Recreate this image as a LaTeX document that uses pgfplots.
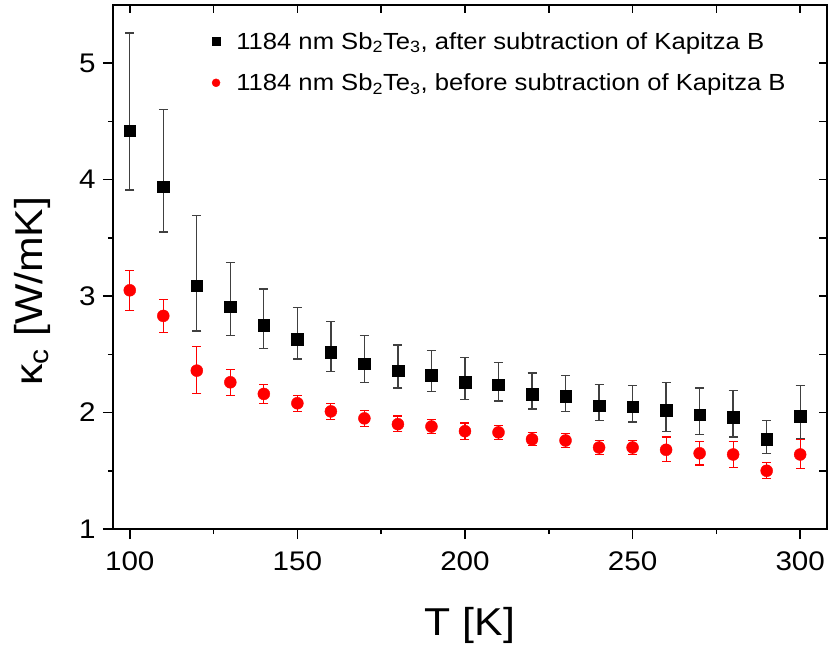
\documentclass[border=0pt]{standalone}
\usepackage{pgfplots}
\usepackage{pgfplotstable}
\pgfplotsset{compat=1.18}
\usepackage{fontspec}
\setmainfont{Liberation Sans}[FakeStretch=1.1]

% thermal conductivity of the 1184 nm Sb2Te3 film, asymmetric error bars
\pgfplotstableread{
T    k     ep    em
100  4.42  0.84  0.51
110  3.94  0.66  0.39
120  3.09  0.60  0.39
130  2.91  0.38  0.25
140  2.75  0.31  0.20
150  2.63  0.27  0.17
160  2.52  0.26  0.17
170  2.42  0.24  0.16
180  2.36  0.22  0.15
190  2.32  0.21  0.14
200  2.26  0.21  0.15
210  2.24  0.19  0.14
220  2.16  0.18  0.13
230  2.14  0.18  0.13
240  2.06  0.18  0.13
250  2.05  0.18  0.13
260  2.02  0.24  0.18
270  1.98  0.23  0.17
280  1.96  0.23  0.17
290  1.77  0.16  0.12
300  1.97  0.26  0.19
}\after

\pgfplotstableread{
T    k     ep    em
100  3.05  0.17  0.17
110  2.83  0.14  0.14
120  2.36  0.21  0.20
130  2.26  0.11  0.11
140  2.16  0.08  0.08
150  2.08  0.07  0.07
160  2.01  0.07  0.07
170  1.95  0.07  0.07
180  1.90  0.07  0.06
190  1.88  0.06  0.06
200  1.84  0.07  0.07
210  1.83  0.06  0.06
220  1.77  0.06  0.05
230  1.76  0.06  0.06
240  1.70  0.06  0.06
250  1.70  0.06  0.06
260  1.68  0.11  0.10
270  1.65  0.10  0.10
280  1.64  0.11  0.11
290  1.50  0.07  0.07
300  1.64  0.13  0.12
}\before

\pgfplotsset{
  frame/.style={
    scale only axis, width=714bp, height=524bp,
    xmin=95, xmax=308, ymin=1, ymax=5.5,
    xtick={100,150,...,300}, ytick={1,2,3,4,5},
    minor x tick num=1, minor y tick num=1,
    every tick/.style={black, line width=1.5bp},
    /pgf/number format/assume math mode=true,
  },
  % small legend symbol followed by a gap before the text
  smallmark/.style={legend image code/.code={
    \draw[##1, mark size=4bp] plot coordinates {(0bp,0bp)};
    \path (-4bp,0bp) (18bp,0bp);}},
}

\begin{document}
\begin{tikzpicture}
% mirrored inward ticks on top and right
\begin{axis}[
  frame,
  axis line style={draw=none},
  xtick pos=top, ytick pos=right,
  tick align=inside,
  major tick length=8bp, minor tick length=8bp,
  xticklabels={}, yticklabels={},
]
\end{axis}

\begin{axis}[
  frame,
  axis line style={line width=2bp},
  xtick pos=bottom, ytick pos=left,
  tick align=outside,
  major tick length=10bp, minor tick length=5bp,
  ticklabel style={font=\fontsize{27}{31}\selectfont},
  xticklabel style={yshift=-9bp},
  yticklabel style={xshift=-4bp},
  xlabel={T [K]},
  ylabel={κ\textsubscript{c} [W/mK]},
  label style={font=\fontsize{39}{44}\selectfont},
  xlabel style={at={(axis description cs:0.5,-0.185)}, anchor=center},
  ylabel style={at={(axis description cs:-0.1134,0.454)}, anchor=center},
  legend style={draw=none, fill=none, at={(axis description cs:0.134,0.956)},
    anchor=north west, font=\fontsize{23.4}{27}\selectfont, row sep=19bp},
  legend cell align=left,
  clip=false,
]
\coordinate (bl) at (rel axis cs:0,0);
\coordinate (tr) at (rel axis cs:1,1);

\addplot[only marks, mark=square*, mark size=5.8bp, black, smallmark,
  error bars/.cd, y dir=both, y explicit,
  error bar style={line width=1.3bp, black!75},
  error mark options={rotate=90, mark size=4.5bp, line width=1.3bp, black!75}]
  table[x=T, y=k, y error plus=ep, y error minus=em] {\after};
\addlegendentry{1184 nm Sb\textsubscript{2}Te\textsubscript{3}, after subtraction of Kapitza B}

\addplot[only marks, mark=*, mark size=6bp, red, mark options={draw=red, fill=red}, smallmark,
  error bars/.cd, y dir=both, y explicit,
  error bar style={line width=1.1bp, red},
  error mark options={rotate=90, mark size=4.5bp, line width=1.1bp, red}]
  table[x=T, y=k, y error plus=ep, y error minus=em] {\before};
\addlegendentry{1184 nm Sb\textsubscript{2}Te\textsubscript{3}, before subtraction of Kapitza B}
\end{axis}

\pgfresetboundingbox
\path ([shift={(-113bp,-121bp)}]bl) rectangle ([shift={(5bp,5bp)}]tr);
\end{tikzpicture}
\end{document}
